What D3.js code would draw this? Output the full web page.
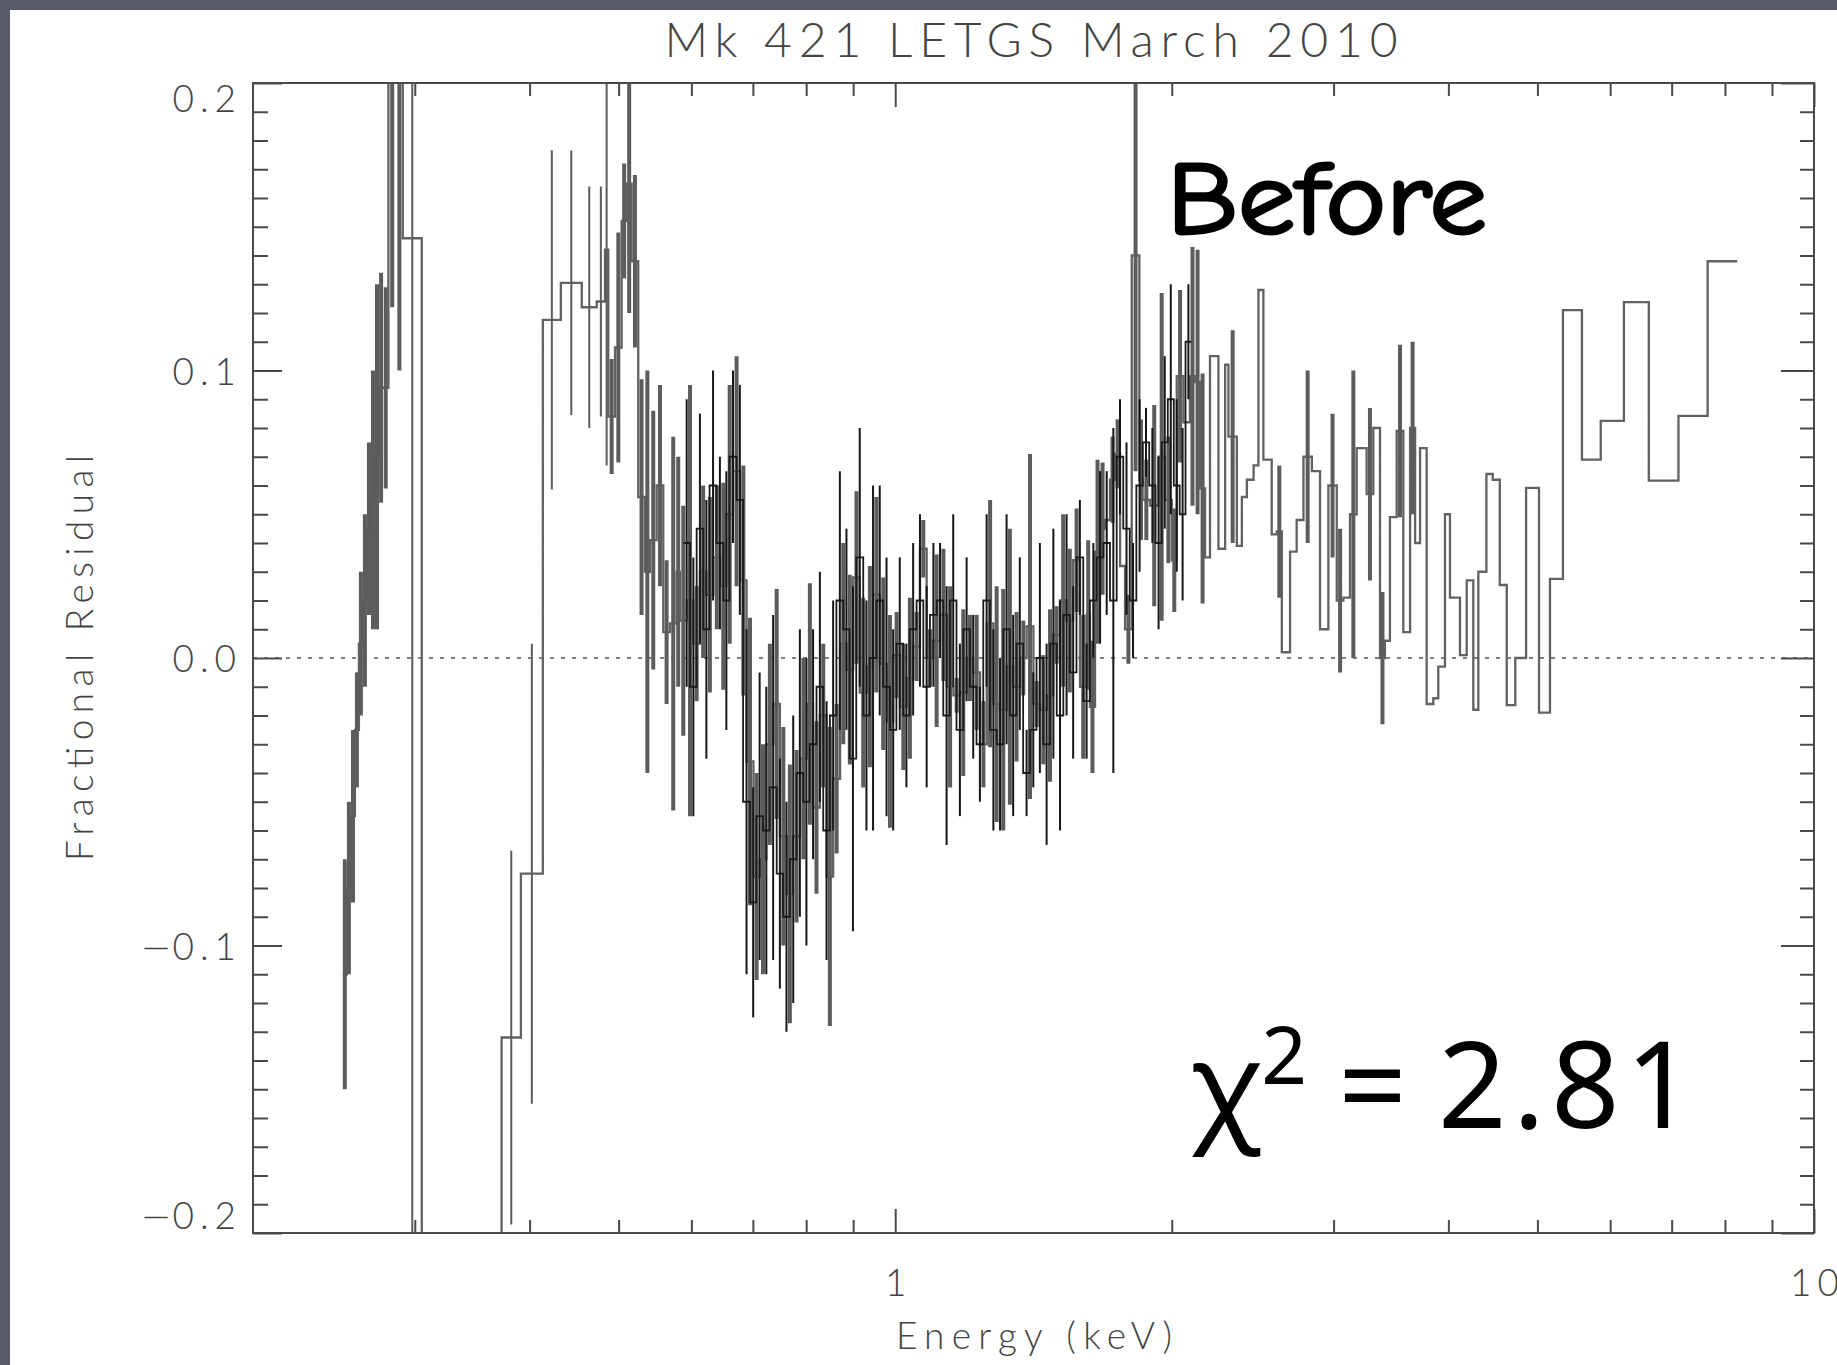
<!DOCTYPE html>
<html>
<head>
<meta charset="utf-8">
<script src="https://cdn.jsdelivr.net/npm/d3@7"></script>
<style>
  html, body { margin: 0; padding: 0; background: #565b65; overflow: hidden; }
  svg { display: block; }
</style>
</head>
<body>
<svg id="chart-svg" width="1837" height="1365"></svg>
<script>
// Mk 421 LETGS residuals

const TITLE = 'Mk 421 LETGS March 2010';
const X_LABEL = 'Energy (keV)';
const Y_LABEL = 'Fractional Residual';

const xDomain = [0.2, 10];
const yDomain = [-0.2, 0.2];
const xMajorTicks = [1, 10];
const yMajorTicks = [-0.2, -0.1, 0.0, 0.1, 0.2];

// gray series: bin edges (keV), residuals, 1-sigma errors
const grayEdges = [
  0.2505, 0.2530, 0.2557, 0.2582, 0.2608, 0.2634, 0.2661, 0.2688, 0.2715, 0.2743, 0.2771,
  0.2808, 0.2862, 0.2911, 0.3053, 0.3729, 0.3914, 0.4135, 0.4326, 0.4559, 0.4733, 0.4832,
  0.4872, 0.4955, 0.5038, 0.5102, 0.5166, 0.5252, 0.5340, 0.5407, 0.5500, 0.5592, 0.5686, 0.5781, 0.583,
  0.593, 0.603, 0.613, 0.623, 0.634, 0.645, 0.655, 0.666, 0.678, 0.689,
  0.701, 0.712, 0.724, 0.737, 0.749, 0.762, 0.774, 0.788, 0.801, 0.814,
  0.828, 0.842, 0.856, 0.871, 0.885, 0.900, 0.915, 0.931, 0.946, 0.962,
  0.979, 0.995, 1.012, 1.029, 1.046, 1.064, 1.082, 1.100, 1.119, 1.138,
  1.157, 1.176, 1.196, 1.216, 1.237, 1.258, 1.279, 1.300, 1.322, 1.344,
  1.367, 1.390, 1.414, 1.437, 1.462, 1.486, 1.511, 1.536, 1.562, 1.589, 1.615, 1.629,
  1.650, 1.671, 1.692, 1.713, 1.735, 1.757, 1.779, 1.809, 1.844, 1.859,
  1.894, 1.934, 1.966, 2.000, 2.025, 2.059, 2.093, 2.120, 2.147, 2.174,
  2.201, 2.248, 2.286, 2.305, 2.354, 2.384, 2.414, 2.455, 2.485, 2.516,
  2.569, 2.602, 2.635, 2.690, 2.735, 2.782, 2.841, 2.900, 2.961, 3.024,
  3.075, 3.126, 3.179, 3.259, 3.314, 3.370, 3.412, 3.455, 3.514, 3.573,
  3.634, 3.680, 3.726, 3.788, 3.852, 3.900, 3.966, 4.016, 4.118, 4.188, 4.258, 4.312,
  4.40, 4.47, 4.55, 4.63, 4.73, 4.86, 5.02, 5.16, 5.33, 5.59, 5.86, 6.21, 6.61, 7.12, 7.66, 8.25, 8.53
];
const grayResid = [
  -0.11, -0.08, -0.055, -0.025, 0.005, 0.02, 0.045, 0.055, 0.07, 0.094, 0.094,
  0.26, 0.30, 0.146, -0.40, -0.132, -0.075, 0.1176, 0.1305, 0.122, 0.124,
  0.142, 0.084, 0.108, 0.152, 0.165, 0.138, 0.056, 0.03, 0.041, 0.06, 0.009, 0.012, 0.03,
  0.013, 0.02, 0.005, 0.03, 0.022, 0.035, 0.025, 0.05, 0.065, 0.027,
  -0.036, -0.076, -0.07, -0.03, -0.016, -0.062, -0.082, -0.062, -0.035, -0.016,
  -0.052, -0.02, -0.076, -0.042, 0.005, -0.004, 0.028, -0.012, -0.003, 0.022,
  -0.002, -0.022, 0.001, -0.017, -0.007, 0.004, 0.038, 0.0, 0.006, 0.015,
  -0.01, -0.013, -0.012, 0.0, -0.005, -0.03, 0.012, -0.016, -0.018, -0.003,
  -0.01, 0.0, 0.011, -0.016, -0.018, -0.013, 0.008, 0.02, 0.013, 0.034, -0.01, 0.015,
  -0.017, 0.037, 0.045, 0.048, 0.062, 0.071, 0.032, 0.01, 0.14, 0.062,
  0.055, 0.053, 0.07, 0.055, 0.034, 0.098, 0.082, 0.098, 0.096, 0.059,
  0.035, 0.105, 0.038, 0.102, 0.077, 0.039, 0.056, 0.062, 0.067, 0.128,
  0.069, 0.043, 0.044, 0.002, 0.037, 0.048, 0.07, 0.065, 0.01, 0.06,
  0.02, 0.021, 0.05, 0.073, 0.057, 0.08, 0.0, 0.006, 0.049, 0.079,
  0.009, 0.08, 0.04, 0.073, -0.016, -0.014, -0.003, 0.05, 0.021, 0.001, 0.027,
  -0.018, 0.030, 0.064, 0.062, 0.0254, -0.0164, 0.0, 0.0592, -0.019, 0.0275, 0.121, 0.069, 0.0825, 0.1238, 0.0617, 0.0842, 0.138
];
const grayErr = [
  0.04, 0.03, 0.03, 0.02, 0.025, 0.03, 0.03, 0.045, 0.06, 0.04, 0.035,
  0.138, 0.2, 0.5, 0.15, 0.065, 0.08, 0.059, 0.046, 0.042, 0.04,
  0.075, 0.02, 0.04, 0.02, 0.045, 0.03, 0.041, 0.07, 0.045, 0.035, 0.025, 0.065, 0.04,
  0.04, 0.075, 0.02, 0.03, 0.034, 0.025, 0.036, 0.045, 0.04, 0.04,
  0.05, 0.036, 0.04, 0.035, 0.04, 0.038, 0.045, 0.03, 0.035, 0.042,
  0.03, 0.025, 0.052, 0.026, 0.035, 0.033, 0.03, 0.033, 0.035, 0.034,
  0.03, 0.037, 0.015, 0.022, 0.028, 0.012, 0.01, 0.01, 0.03, 0.023,
  0.035, 0.006, 0.029, 0.015, 0.02, 0.015, 0.043, 0.041, 0.042, 0.048,
  0.026, 0.013, 0.06, 0.008, 0.019, 0.03, 0.01, 0.03, 0.025, 0.018, 0.025, 0.026,
  0.023, 0.032, 0.023, 0.0, 0.015, 0.012, 0.0, 0.012, 0.075, 0.021,
  0.014, 0.035, 0.057, 0.022, 0.018, 0.03, 0.0, 0.045, 0.046, 0.04,
  0, 0, 0, 0, 0.037, 0, 0, 0, 0, 0,
  0, 0, 0.023, 0, 0, 0, 0.03, 0, 0, 0.025,
  0.025, 0, 0.05, 0, 0.03, 0, 0.023, 0, 0, 0.03,
  0, 0.03, 0, 0, 0, 0, 0, 0, 0, 0, 0,
  0, 0, 0, 0, 0, 0, 0, 0, 0, 0, 0, 0, 0, 0, 0, 0, 0
];

// black series
const blackEdges = [
  0.588, 0.598, 0.608, 0.618, 0.628, 0.639, 0.650, 0.660, 0.672, 0.683,
  0.695, 0.706, 0.718, 0.730, 0.743, 0.755, 0.768, 0.781, 0.794, 0.807,
  0.821, 0.835, 0.849, 0.863, 0.878, 0.892, 0.907, 0.923, 0.938, 0.954,
  0.970, 0.987, 1.003, 1.020, 1.037, 1.055, 1.073, 1.091, 1.110, 1.128,
  1.147, 1.166, 1.186, 1.206, 1.226, 1.247, 1.268, 1.290, 1.311, 1.333,
  1.355, 1.378, 1.402, 1.425, 1.449, 1.474, 1.499, 1.524, 1.549, 1.575,
  1.602, 1.629, 1.657, 1.685, 1.713, 1.742, 1.771, 1.800, 1.830, 1.860,
  1.890, 1.920, 1.950, 1.980, 2.010, 2.040, 2.070, 2.100
];
const blackResid = [
  0.04, -0.01, 0.045, 0.01, 0.06, 0.04, 0.02, 0.07, 0.055, -0.05,
  -0.085, -0.055, -0.06, -0.045, -0.075, -0.09, -0.07, -0.04, -0.05, -0.03,
  -0.01, -0.06, -0.02, 0.02, 0.01, -0.035, 0.035, -0.02, 0.0, 0.02,
  -0.01, -0.025, 0.005, -0.02, 0.01, 0.02, -0.01, 0.015, 0.02, -0.02,
  0.02, -0.025, 0.01, -0.01, -0.03, 0.02, -0.025, -0.03, 0.01, -0.02,
  0.005, -0.04, -0.025, 0.0, -0.03, 0.005, -0.02, 0.015, -0.005, 0.035,
  -0.015, 0.02, 0.035, 0.04, 0.02, 0.07, 0.045, 0.02, 0.06, 0.075,
  0.06, 0.04, 0.075, 0.09, 0.06, 0.05, 0.11
];
const blackErr = [
  0.05, 0.045, 0.04, 0.045, 0.04, 0.03, 0.045, 0.03, 0.04, 0.06,
  0.04, 0.05, 0.05, 0.06, 0.04, 0.04, 0.05, 0.05, 0.05, 0.04,
  0.04, 0.045, 0.04, 0.045, 0.035, 0.06, 0.045, 0.04, 0.06, 0.04,
  0.045, 0.035, 0.03, 0.025, 0.03, 0.03, 0.035, 0.025, 0.02, 0.045,
  0.03, 0.03, 0.025, 0.025, 0.02, 0.03, 0.035, 0.03, 0.04, 0.035,
  0.03, 0.015, 0.02, 0.04, 0.035, 0.04, 0.04, 0.035, 0.03, 0.02,
  0.02, 0.02, 0.03, 0.025, 0.06, 0.02, 0.03, 0.02, 0.03, 0.012,
  0.02, 0.03, 0.03, 0.04, 0.03, 0.03, 0.02
];

const svg = d3.select('#chart-svg');
const W = 1837, H = 1365;
const x0 = 253, x1 = 1814, y0 = 83, y1 = 1233;
const LABEL_FONT = 'Lato, "Open Sans", "DejaVu Sans", sans-serif';
const AXIS_COLOR = '#4a4a4a';

// slide background and white panel
svg.append('rect').attr('width', W).attr('height', H).attr('fill', '#565b65');
svg.append('rect').attr('x', 10).attr('y', 10).attr('width', W - 10).attr('height', H - 10).attr('fill', '#ffffff');

const x = d3.scaleLog().domain(xDomain).range([x0, x1]);
const y = d3.scaleLinear().domain(yDomain).range([y1, y0]);

svg.append('clipPath').attr('id', 'plot-clip')
  .append('rect').attr('x', x0).attr('y', y0).attr('width', x1 - x0).attr('height', y1 - y0);

function makeBins(edges, resid, err) {
  const n = Math.min(edges.length - 1, resid.length, err.length);
  return d3.range(n).map((i) => ({ lo: edges[i], hi: edges[i + 1], v: resid[i], e: err[i] }));
}

const stepLine = d3.line().curve(d3.curveStepAfter);

function drawSeries(bins, opts) {
  const g = svg.append('g').attr('clip-path', 'url(#plot-clip)');
  const pts = bins.map((b) => [x(b.lo), y(b.v)]);
  const last = bins[bins.length - 1];
  pts.push([x(last.hi), y(last.v)]);
  g.append('path')
    .attr('d', stepLine(pts))
    .attr('fill', 'none')
    .attr('stroke', opts.stepColor)
    .attr('stroke-width', opts.stepWidth);
  g.selectAll('line.err')
    .data(bins.filter((b) => b.e > 0))
    .enter()
    .append('line')
    .attr('class', 'err')
    .attr('x1', (b) => x(Math.sqrt(b.lo * b.hi)))
    .attr('x2', (b) => x(Math.sqrt(b.lo * b.hi)))
    .attr('y1', (b) => y(b.v - b.e))
    .attr('y2', (b) => y(b.v + b.e))
    .attr('stroke', opts.errColor)
    .attr('stroke-width', (b) => opts.errWidth(b));
}

// zero line
svg.append('line')
  .attr('x1', x0).attr('x2', x1).attr('y1', y(0)).attr('y2', y(0))
  .attr('stroke', '#555').attr('stroke-width', 1.6).attr('stroke-dasharray', '4 7');

drawSeries(makeBins(grayEdges, grayResid, grayErr), {
  stepColor: '#626262', stepWidth: 2.3, errColor: '#5c5c5c',
  errWidth: (b) => (b.hi < 0.49 && b.lo > 0.29 ? 2 : 4)
});
drawSeries(makeBins(blackEdges, blackResid, blackErr), {
  stepColor: '#1c1c1c', stepWidth: 1.8, errColor: '#161616', errWidth: () => 2
});

// axes: ticks point inward on all four sides
const xMinor = x.ticks().filter((d) => !xMajorTicks.includes(d) && d > xDomain[0] + 1e-9 && d < xDomain[1] - 1e-9);
const yMinor = y.ticks(40).filter((d) => !yMajorTicks.some((m) => Math.abs(m - d) < 1e-9));

function styleAxis(g) {
  g.select('.domain').remove();
  g.selectAll('line').attr('stroke', AXIS_COLOR).attr('stroke-width', 2);
  g.selectAll('text')
    .attr('fill', '#444')
    .style('font-family', LABEL_FONT)
    .style('font-size', '37px')
    .style('font-weight', 300)
    .style('letter-spacing', '6px');
}

svg.append('g').attr('transform', `translate(0,${y1})`)
  .call(d3.axisBottom(x).tickValues(xMinor).tickSize(-13).tickSizeOuter(0).tickFormat(''))
  .call(styleAxis);
svg.append('g').attr('transform', `translate(0,${y1})`)
  .call(d3.axisBottom(x).tickValues(xMajorTicks).tickSize(-24).tickSizeOuter(0).tickPadding(37).tickFormat(d3.format('d')))
  .call(styleAxis)
  .selectAll('text').attr('dx', 3);
svg.append('g').attr('transform', `translate(0,${y0})`)
  .call(d3.axisTop(x).tickValues(xMinor).tickSize(-13).tickSizeOuter(0).tickFormat(''))
  .call(styleAxis);
svg.append('g').attr('transform', `translate(0,${y0})`)
  .call(d3.axisTop(x).tickValues(xMajorTicks).tickSize(-24).tickSizeOuter(0).tickFormat(''))
  .call(styleAxis);

svg.append('g').attr('transform', `translate(${x0},0)`)
  .call(d3.axisLeft(y).tickValues(yMinor).tickSize(-15).tickSizeOuter(0).tickFormat(''))
  .call(styleAxis);
const yLabelAxis = svg.append('g').attr('transform', `translate(${x0},0)`)
  .call(d3.axisLeft(y).tickValues(yMajorTicks).tickSize(-29).tickSizeOuter(0).tickPadding(11).tickFormat(d3.format('.1f')))
  .call(styleAxis);
// end labels sit inside the axis range; the minus sign gets a full-width glyph
yLabelAxis.selectAll('text')
  .attr('dy', (d) => (d >= 0.2 - 1e-9 ? '0.78em' : d <= -0.2 + 1e-9 ? '-0.12em' : '0.37em'))
  .each(function (d) {
    const label = d3.format('.1f')(d);
    const t = d3.select(this).text(null);
    if (label.startsWith('\u2212')) {
      t.append('tspan')
        .style('font-family', '"DejaVu Sans", sans-serif')
        .style('font-weight', 200)
        .style('letter-spacing', '1px')
        .text('\u2212');
      t.append('tspan').text(label.slice(1));
    } else {
      t.text(label);
    }
  });
svg.append('g').attr('transform', `translate(${x1},0)`)
  .call(d3.axisRight(y).tickValues(yMinor).tickSize(-14).tickSizeOuter(0).tickFormat(''))
  .call(styleAxis);
svg.append('g').attr('transform', `translate(${x1},0)`)
  .call(d3.axisRight(y).tickValues(yMajorTicks).tickSize(-33).tickSizeOuter(0).tickFormat(''))
  .call(styleAxis);

// frame
svg.append('rect')
  .attr('x', x0).attr('y', y0).attr('width', x1 - x0).attr('height', y1 - y0)
  .attr('fill', 'none').attr('stroke', AXIS_COLOR).attr('stroke-width', 2);

// titles
svg.append('text')
  .attr('x', 1031).attr('y', 57)
  .attr('text-anchor', 'middle')
  .attr('textLength', 733).attr('lengthAdjust', 'spacing')
  .attr('fill', '#444')
  .style('font-family', LABEL_FONT).style('font-size', '48px').style('font-weight', 300)
  .text(TITLE);

svg.append('text')
  .attr('x', 1034).attr('y', 1349)
  .attr('text-anchor', 'middle')
  .attr('textLength', 276).attr('lengthAdjust', 'spacing')
  .attr('fill', '#444')
  .style('font-family', LABEL_FONT).style('font-size', '37px').style('font-weight', 300)
  .text(X_LABEL);

svg.append('text')
  .attr('transform', 'translate(93,658) rotate(-90)')
  .attr('text-anchor', 'middle')
  .attr('textLength', 406).attr('lengthAdjust', 'spacing')
  .attr('fill', '#444')
  .style('font-family', LABEL_FONT).style('font-size', '37px').style('font-weight', 300)
  .text(Y_LABEL);

// annotations
svg.append('text')
  .attr('x', 1167).attr('y', 233)
  .attr('textLength', 320).attr('lengthAdjust', 'spacingAndGlyphs')
  .attr('fill', '#000').attr('stroke', '#000').attr('stroke-width', 3)
  .style('font-family', '"Comic Sans MS", "Comic Neue", "DejaVu Sans", sans-serif')
  .style('font-size', '104px')
  .text('Before');

const chi = svg.append('text')
  .attr('x', 1190).attr('y', 1128)
  .attr('fill', '#000')
  .style('font-family', '"Noto Sans", "DejaVu Sans", sans-serif')
  .style('font-size', '120px');
chi.append('tspan').text('χ');
chi.append('tspan').attr('dy', -44).style('font-size', '80px').text('2');
chi.append('tspan').attr('dy', 44).text(' = ');
chi.append('tspan').style('letter-spacing', '6px').text('2.81');
</script>
</body>
</html>
